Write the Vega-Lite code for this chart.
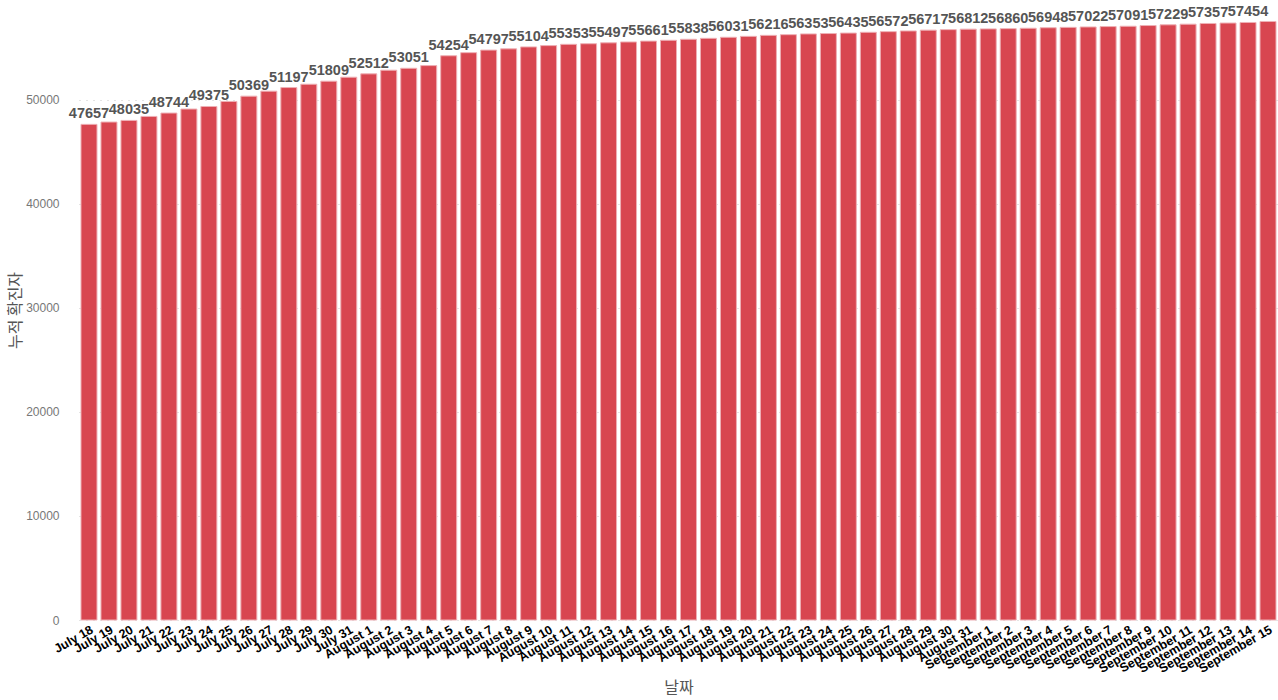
{
  "$schema": "https://vega.github.io/schema/vega-lite/v6.json",
  "autosize": {"type": "none"},
  "padding": {"left": 79, "top": 0, "right": 0, "bottom": 80},
  "width": 1199,
  "height": 620,
  "background": "white",
  "config": {
    "view": {"stroke": null},
    "font": "Liberation Sans"
  },
  "data": {
    "values": [
      {"date": "July 18", "cases": 47657},
      {"date": "July 19", "cases": 47880},
      {"date": "July 20", "cases": 48035},
      {"date": "July 21", "cases": 48420},
      {"date": "July 22", "cases": 48744},
      {"date": "July 23", "cases": 49130},
      {"date": "July 24", "cases": 49375},
      {"date": "July 25", "cases": 49860},
      {"date": "July 26", "cases": 50369},
      {"date": "July 27", "cases": 50850},
      {"date": "July 28", "cases": 51197},
      {"date": "July 29", "cases": 51517},
      {"date": "July 30", "cases": 51809},
      {"date": "July 31", "cases": 52193},
      {"date": "August 1", "cases": 52512},
      {"date": "August 2", "cases": 52864},
      {"date": "August 3", "cases": 53051},
      {"date": "August 4", "cases": 53307},
      {"date": "August 5", "cases": 54254},
      {"date": "August 6", "cases": 54550},
      {"date": "August 7", "cases": 54797},
      {"date": "August 8", "cases": 54920},
      {"date": "August 9", "cases": 55104},
      {"date": "August 10", "cases": 55230},
      {"date": "August 11", "cases": 55353},
      {"date": "August 12", "cases": 55410},
      {"date": "August 13", "cases": 55497},
      {"date": "August 14", "cases": 55580},
      {"date": "August 15", "cases": 55661},
      {"date": "August 16", "cases": 55740},
      {"date": "August 17", "cases": 55838},
      {"date": "August 18", "cases": 55930},
      {"date": "August 19", "cases": 56031},
      {"date": "August 20", "cases": 56120},
      {"date": "August 21", "cases": 56216},
      {"date": "August 22", "cases": 56280},
      {"date": "August 23", "cases": 56353},
      {"date": "August 24", "cases": 56390},
      {"date": "August 25", "cases": 56435},
      {"date": "August 26", "cases": 56510},
      {"date": "August 27", "cases": 56572},
      {"date": "August 28", "cases": 56640},
      {"date": "August 29", "cases": 56717},
      {"date": "August 30", "cases": 56765},
      {"date": "August 31", "cases": 56812},
      {"date": "September 1", "cases": 56836},
      {"date": "September 2", "cases": 56860},
      {"date": "September 3", "cases": 56900},
      {"date": "September 4", "cases": 56948},
      {"date": "September 5", "cases": 56985},
      {"date": "September 6", "cases": 57022},
      {"date": "September 7", "cases": 57058},
      {"date": "September 8", "cases": 57091},
      {"date": "September 9", "cases": 57160},
      {"date": "September 10", "cases": 57229},
      {"date": "September 11", "cases": 57290},
      {"date": "September 12", "cases": 57357},
      {"date": "September 13", "cases": 57400},
      {"date": "September 14", "cases": 57454},
      {"date": "September 15", "cases": 57550}
    ]
  },
  "encoding": {
    "x": {
      "field": "date",
      "type": "nominal",
      "sort": null,
      "scale": {"paddingInner": 0.2, "paddingOuter": 0.1},
      "axis": {
        "title": "날짜",
        "titleFont": "Noto Sans CJK KR",
        "titleFontSize": 16,
        "titleFontWeight": "normal",
        "titleColor": "#555",
        "titlePadding": 5,
        "labelAngle": -30,
        "labelAlign": "right",
        "labelBaseline": "top",
        "labelFontWeight": "bold",
        "labelFontSize": 12.5,
        "labelColor": "#000",
        "labelPadding": 3,
        "ticks": false,
        "domain": false,
        "labelOverlap": false
      }
    },
    "y": {
      "field": "cases",
      "type": "quantitative",
      "scale": {"domain": [0, 59615], "nice": false},
      "axis": {
        "title": "누적 확진자",
        "titleFont": "Noto Sans CJK KR",
        "titleFontSize": 16,
        "titleFontWeight": "normal",
        "titleColor": "#555",
        "titlePadding": 2,
        "values": [0, 10000, 20000, 30000, 40000, 50000],
        "format": "d",
        "labelFontSize": 12,
        "labelColor": "#777",
        "labelPadding": 20,
        "ticks": false,
        "domain": false,
        "gridColor": "#c8c8c8",
        "gridDash": [1, 6],
        "gridWidth": 1
      }
    }
  },
  "layer": [
    {
      "mark": {"type": "bar", "color": "#d84650", "stroke": "#eeb0b5", "strokeWidth": 1}
    },
    {
      "transform": [
        {"window": [{"op": "row_number", "as": "idx"}]},
        {"filter": "datum.idx % 2 == 1"}
      ],
      "mark": {
        "type": "text",
        "baseline": "alphabetic",
        "dy": -6,
        "fontSize": 14.5,
        "fontWeight": "bold",
        "color": "#555"
      },
      "encoding": {
        "text": {"field": "cases", "type": "quantitative", "format": "d"}
      }
    }
  ]
}
